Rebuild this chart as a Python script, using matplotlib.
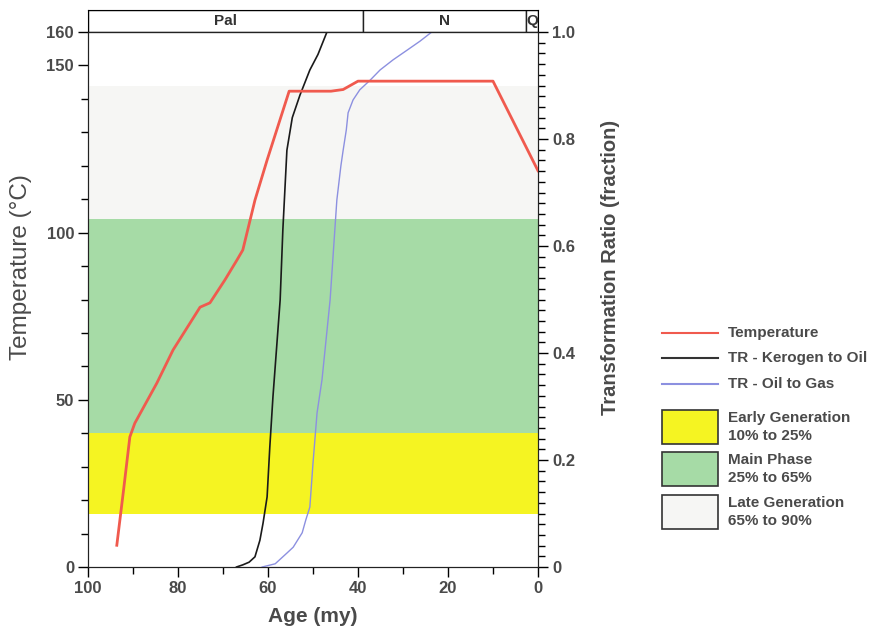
import matplotlib
matplotlib.use("Agg")
import matplotlib.pyplot as plt
from matplotlib.patches import Rectangle
from matplotlib.ticker import MultipleLocator

plt.rcParams['font.family'] = ['Liberation Sans', 'DejaVu Sans']

# temperature history (age in my, temperature in degC)
temp_age = [93.6, 92.1, 90.7, 89.6, 84.7, 81.1, 75.1, 72.9, 69.6, 66.9, 65.6,
            62.9, 60.2, 55.3, 46.0, 43.3, 40.0, 10.0, 0.0]
temp_val = [6.5, 23.0, 38.9, 43.0, 55.0, 64.9, 77.7, 79.0, 85.8, 91.8, 94.8,
            109.7, 121.7, 142.3, 142.3, 142.8, 145.3, 145.3, 118.5]

# transformation ratio kerogen -> oil
ker_age = [67.0, 65.6, 64.2, 62.9, 61.8, 61.1, 60.2, 59.6, 58.9, 57.3, 56.7,
           55.8, 54.6, 52.9, 50.7, 48.9, 46.9]
ker_tr = [0.0, 0.004, 0.009, 0.019, 0.05, 0.082, 0.131, 0.224, 0.318, 0.499,
          0.63, 0.779, 0.84, 0.882, 0.929, 0.958, 1.0]

# transformation ratio oil -> gas
gas_age = [61.3, 58.4, 55.8, 54.4, 52.4, 51.6, 50.7, 50.0, 49.1, 48.0, 46.2,
           44.7, 43.8, 43.3, 42.6, 42.2, 41.1, 39.6, 37.3, 35.1, 32.2, 29.1,
           26.2, 23.6]
gas_tr = [0.0, 0.006, 0.026, 0.037, 0.064, 0.088, 0.112, 0.194, 0.288, 0.35,
          0.499, 0.686, 0.75, 0.779, 0.817, 0.849, 0.873, 0.892, 0.91, 0.929,
          0.948, 0.966, 0.983, 1.0]

# generation windows (TR fraction)
win_names = ["Early Generation\n10% to 25%", "Main Phase\n25% to 65%",
             "Late Generation\n65% to 90%"]
win_lo = [0.10, 0.25, 0.65]
win_hi = [0.25, 0.65, 0.90]
win_cols = ["#f5f422", "#a6dba6", "#f6f6f4"]

# time scale band
periods = ["Pal", "N", "Q"]
per_start = [100.0, 38.8, 2.7]
per_end = [38.8, 2.7, 0.0]

W, H = 877, 629
lab_col = "#4a4a4a"

fig = plt.figure(figsize=(W / 100, H / 100), dpi=100)
ax = fig.add_axes([88 / W, 1 - 567 / H, 450 / W, 535 / H])
ax2 = ax.twinx()
ax.set_zorder(ax2.get_zorder() + 1)
ax.patch.set_visible(False)

for lo, hi, c in zip(win_lo, win_hi, win_cols):
    ax2.axhspan(lo, hi, color=c, lw=0, zorder=0)

ax2.plot(ker_age, ker_tr, color="#1a1a1a", lw=1.2, zorder=3)
ax2.plot(gas_age, gas_tr, color="#8c90e0", lw=1.0, zorder=3)
ax.plot(temp_age, temp_val, color="#f05a4e", lw=2.0, zorder=4)

ax.set_xlim(100, 0)
ax.set_ylim(0, 160)
ax2.set_ylim(0, 1.0)

ax.set_xticks([100, 80, 60, 40, 20, 0])
ax.xaxis.set_minor_locator(MultipleLocator(10))
ax.set_yticks([0, 50, 100, 150, 160])
ax.yaxis.set_minor_locator(MultipleLocator(10))
ax2.set_yticks([0, 0.2, 0.4, 0.6, 0.8, 1.0])
ax2.set_yticklabels(["0", "0.2", "0.4", "0.6", "0.8", "1.0"])
ax2.yaxis.set_minor_locator(MultipleLocator(0.02))

for a in (ax, ax2):
    a.tick_params(which="major", length=7, width=1, direction="out",
                  pad=3)
    a.tick_params(which="minor", length=5, width=1, direction="out")
    for t in a.get_xticklabels() + a.get_yticklabels():
        t.set_fontsize(12)
        t.set_fontweight("bold")
        t.set_color(lab_col)
    for s in a.spines.values():
        s.set_color("#222222")

ax.set_xlabel("Age (my)", fontsize=15, fontweight="bold", color=lab_col)
ax.xaxis.set_label_coords(0.5, -0.074)
ax.set_ylabel("Temperature (\u00b0C)", fontsize=17.5, color=lab_col)
ax.yaxis.set_label_coords(-0.125, 0.56)
ax2.set_ylabel("Transformation Ratio (fraction)", fontsize=14.5,
               fontweight="bold", color=lab_col)
ax2.yaxis.set_label_coords(1.14, 0.56)

# stratigraphic band above the plot
axt = fig.add_axes([88 / W, 1 - 32 / H, 450 / W, 22 / H])
axt.set_xlim(100, 0)
axt.set_ylim(0, 1)
axt.set_xticks([])
axt.set_yticks([])
for name, s, e in zip(periods, per_start, per_end):
    axt.add_patch(Rectangle((s, 0), e - s, 1, facecolor="white",
                            edgecolor="#222222", lw=1))
    axt.text((s + e) / 2, 0.5, name, ha="center", va="center",
             fontsize=11, fontweight="bold", color="#333333")

# legend drawn in pixel coordinates
axl = fig.add_axes([650 / W, 1 - 545 / H, 227 / W, 230 / H])
axl.set_xlim(650, 877)
axl.set_ylim(545, 315)
axl.axis("off")
leg_lines = [("Temperature", "#f05a4e", 333), ("TR - Kerogen to Oil", "#333333", 358),
             ("TR - Oil to Gas", "#8c90e0", 384)]
for name, c, y in leg_lines:
    axl.plot([662, 718], [y, y], color=c, lw=1.5)
    axl.text(728, y, name, va="center", fontsize=11, fontweight="bold",
             color=lab_col)
box_y = [410, 452, 495]
for name, c, y in zip(win_names, win_cols, box_y):
    axl.add_patch(Rectangle((662, y), 56, 34, facecolor=c,
                            edgecolor="#333333", lw=1.2))
    axl.text(728, y + 17, name, va="center", fontsize=11,
             fontweight="bold", color=lab_col, linespacing=1.3)

fig.savefig("out.png", dpi=100)
